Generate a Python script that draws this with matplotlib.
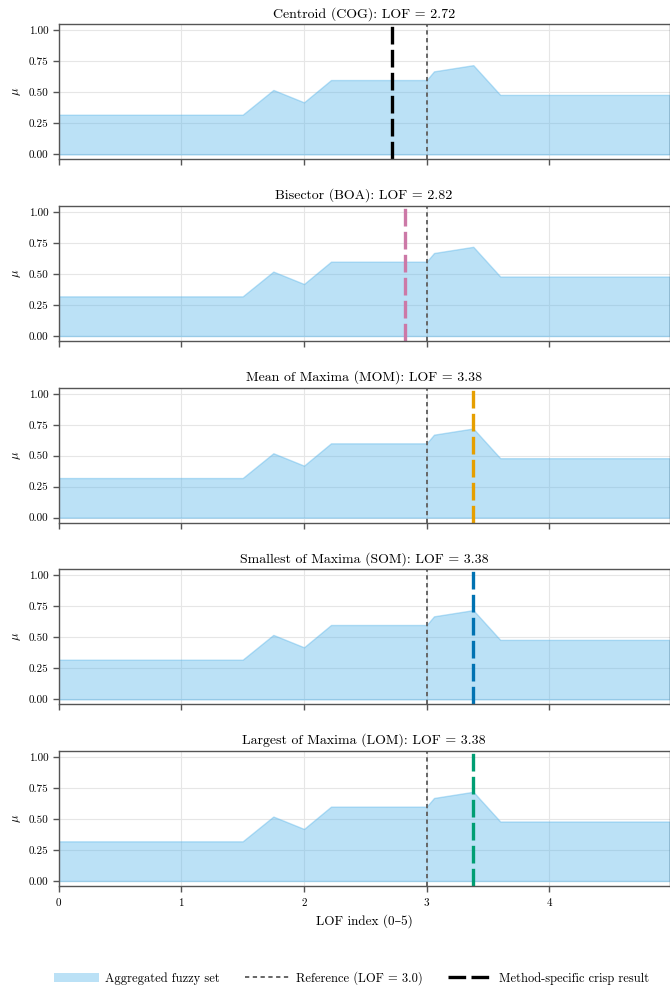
import numpy as np
import matplotlib
matplotlib.use("Agg")
import matplotlib.pyplot as plt
from matplotlib.patches import Patch
from matplotlib.lines import Line2D

plt.rcParams["font.family"] = ["cmr10", "DejaVu Serif"]
plt.rcParams["mathtext.fontset"] = "cm"
plt.rcParams["axes.formatter.use_mathtext"] = True

# aggregated output membership (breakpoints of the clipped sets)
lof_x = [0.0, 1.5, 1.75, 2.0, 2.22, 3.0, 3.06, 3.38, 3.6, 4.98]
mu_agg = [0.32, 0.32, 0.52, 0.42, 0.60, 0.60, 0.67, 0.72, 0.48, 0.48]

methods = ["Centroid (COG)", "Bisector (BOA)", "Mean of Maxima (MOM)",
           "Smallest of Maxima (SOM)", "Largest of Maxima (LOM)"]
crisp = [2.72, 2.82, 3.38, 3.38, 3.38]
colors = ["#000000", "#CC79A7", "#E69F00", "#0072B2", "#009E73"]
ref_lof = 3.0

fill_color = "#56B4E9"
spine_color = "#555555"
ref_style = (0, (2.2, 1.8))
crisp_style = (0, (5.3, 1.6))

fig, axes = plt.subplots(5, 1, figsize=(6.7, 9.91), dpi=100, sharex=True)
fig.subplots_adjust(left=0.0876, right=0.9993, top=0.9755, bottom=0.106,
                    hspace=0.345)

for ax, name, val, col in zip(axes, methods, crisp, colors):
    ax.fill_between(lof_x, 0, mu_agg, color=fill_color, alpha=0.4)
    ax.axvline(ref_lof, color="#666666", linestyle=ref_style, linewidth=1.4)
    ax.axvline(val, color=col, linestyle=crisp_style, linewidth=2.4)
    ax.set_title(f"{name}: LOF = {val:.2f}", fontsize=10, pad=5)
    ax.set_ylabel(r"$\mu$", fontsize=9)
    ax.set_xlim(0, 4.98)
    ax.set_ylim(-0.04, 1.05)
    ax.set_yticks([0, 0.25, 0.5, 0.75, 1.0])
    ax.set_yticklabels(["0.00", "0.25", "0.50", "0.75", "1.00"])
    ax.set_xticks([0, 1, 2, 3, 4])
    ax.grid(True, color="#e6e6e6", linewidth=0.8)
    ax.set_axisbelow(True)
    ax.tick_params(labelsize=8, length=4, width=1, color=spine_color,
                   direction="out")
    for sp in ax.spines.values():
        sp.set_color(spine_color)
        sp.set_linewidth(1.0)

axes[-1].set_xlabel("LOF index (0–5)", fontsize=9.5)

handles = [
    Patch(facecolor=fill_color, alpha=0.4, edgecolor="none"),
    Line2D([], [], color="#666666", linestyle=ref_style, linewidth=1.4),
    Line2D([], [], color="black", linestyle=crisp_style, linewidth=2.4),
]
labels = ["Aggregated fuzzy set", "Reference (LOF = 3.0)",
          "Method-specific crisp result"]
fig.legend(handles, labels, loc="center", ncol=3, frameon=False,
           fontsize=9, bbox_to_anchor=(0.525, 0.013), handlelength=3.6,
           handletextpad=0.5, columnspacing=2.0)

fig.savefig("out.png", dpi=100)
